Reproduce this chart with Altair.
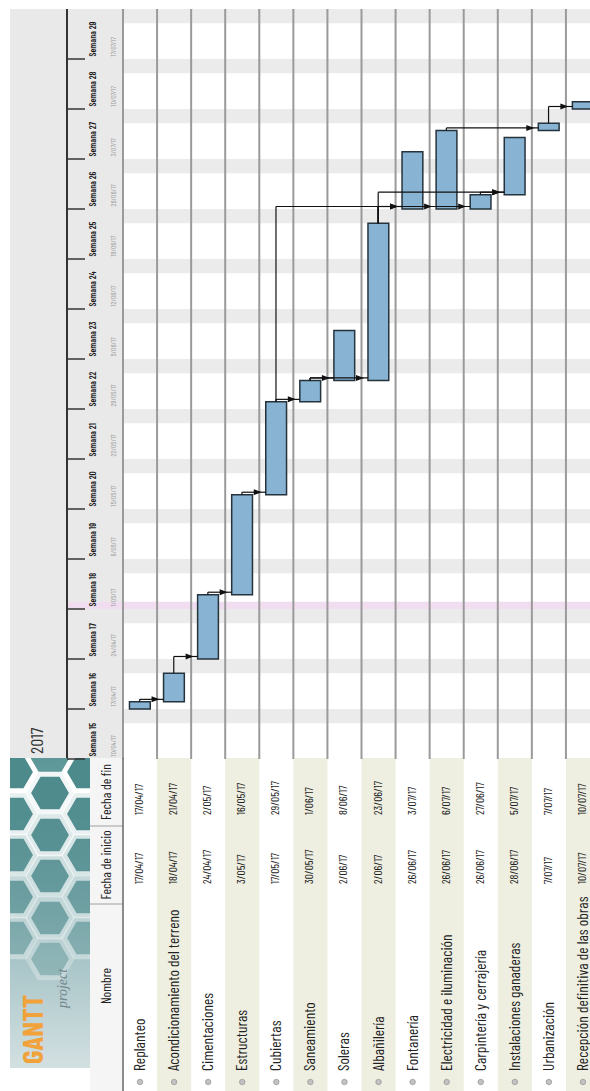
import datetime as dt
import altair as alt
import pandas as pd

# ---------------- data ----------------
names = ["Replanteo", "Acondicionamiento del terreno", "Cimentaciones", "Estructuras",
         "Cubiertas", "Saneamiento", "Soleras", "Albañilería", "Fontanería",
         "Electricidad e iluminación", "Carpintería y cerrajería", "Instalaciones ganaderas",
         "Urbanización", "Recepción definitiva de las obras"]
starts = ["17/04/17", "18/04/17", "24/04/17", "3/05/17", "17/05/17", "30/05/17", "2/06/17",
          "2/06/17", "26/06/17", "26/06/17", "26/06/17", "28/06/17", "7/07/17", "10/07/17"]
ends = ["17/04/17", "21/04/17", "2/05/17", "16/05/17", "29/05/17", "1/06/17", "8/06/17",
        "23/06/17", "3/07/17", "6/07/17", "27/06/17", "5/07/17", "7/07/17", "10/07/17"]
dep_from = [0, 1, 2, 3, 4, 4, 5, 5, 7, 7, 7, 7, 10, 9, 12]
dep_to = [1, 2, 3, 4, 5, 8, 6, 7, 8, 9, 10, 11, 11, 12, 13]
week_numbers = list(range(15, 30))
week_starts = ["10/04/17", "17/04/17", "24/04/17", "1/05/17", "8/05/17", "15/05/17", "22/05/17",
               "29/05/17", "5/06/17", "12/06/17", "19/06/17", "26/06/17", "3/07/17", "10/07/17",
               "17/07/17"]
holidays = ["1/05/17"]
year_label = "2017"
headers = ["Nombre", "Fecha de inicio", "Fecha de fin"]

# decorative honeycomb of the logo (pixel centres)
hex_x = [14, 50, 86, 14, 50, 86, 14, 50, 86, 14, 50, 86, 14, 50, 86]
hex_y = [772, 793, 772, 814, 835, 814, 855, 876, 855, 897, 918, 897, 938, 959, 938]

# ---------------- helpers ----------------
ORIGIN = dt.date(2017, 4, 17)


def day(s):
    return (dt.datetime.strptime(s, "%d/%m/%y").date() - ORIGIN).days


PX_PER_ROW = 477 / 14.0
XS = alt.Scale(domain=[0, 14], range=[123, 600])
YS = alt.Scale(domain=[-7, 98], range=[759, 9])
PXS = alt.Scale(domain=[0, 1091], range=[0, 1091])
FONT = "Barlow Condensed"
one = pd.DataFrame({"k": [0]})


def X(f):
    return alt.X(f, scale=XS, axis=None)


def Y(f):
    return alt.Y(f, scale=YS, axis=None)


def box(x0, x1, y0, y1, color):
    return alt.Chart(one).mark_rect(color=color).encode(
        x=alt.value(x0), x2=alt.value(x1), y=alt.value(y0), y2=alt.value(y1))


def hline(x0, x1, y, color, w):
    return alt.Chart(one).mark_rule(color=color, strokeWidth=w).encode(
        x=alt.value(x0), x2=alt.value(x1), y=alt.value(y))


def vline(x, y0, y1, color, w):
    return alt.Chart(one).mark_rule(color=color, strokeWidth=w).encode(
        x=alt.value(x), y=alt.value(y0), y2=alt.value(y1))


# tasks
tasks = pd.DataFrame({"name": names, "start": starts, "end": ends})
tasks["r"] = range(len(names))
tasks["d0"] = [day(s) for s in starts]
tasks["d1"] = [day(e) + 1 for e in ends]
tasks["bx0"] = tasks["r"] + 0.19
tasks["bx1"] = tasks["r"] + 0.80
tasks["rc"] = tasks["r"] + 0.5

# dependencies
segs, arrows = [], []
for a, b in zip(dep_from, dep_to):
    xa = a + 0.49
    ya = tasks.loc[a, "d1"]
    yb = tasks.loc[b, "d0"] + 0.35
    xb = b + 0.19
    segs.append({"x": xa, "x2": xa, "y": ya, "y2": yb})
    segs.append({"x": xa, "x2": xb, "y": yb, "y2": yb})
    arrows.append({"x": xb - 8.0 / PX_PER_ROW, "y": yb})
segs = pd.DataFrame(segs)
arrows = pd.DataFrame(arrows)

# weeks
weeks = pd.DataFrame({"num": week_numbers, "date": week_starts})
weeks["d"] = [day(s) for s in week_starts]
weeks["dl"] = weeks["d"] + 0.35
weeks["label"] = ["Semana %d" % n for n in week_numbers]

# weekends (Saturday + Sunday) inside the visible span
sat = pd.date_range("2017-04-15", "2017-07-22", freq="7D")
weekends = pd.DataFrame({"d": [(s.date() - ORIGIN).days for s in sat]})
weekends["d2"] = weekends["d"] + 2

hol = pd.DataFrame({"d": [day(h) for h in holidays]})
hol["d2"] = hol["d"] + 1

rows = pd.DataFrame({"r": list(range(0, 14))})
stripes = pd.DataFrame({"r": [r for r in range(14) if r % 2 == 1]})
stripes["r2"] = stripes["r"] + 1

hexes = pd.DataFrame({"x": hex_x, "y": hex_y})
hexes["o"] = [1.0 - (y - 772) / 260.0 for y in hex_y]

head = pd.DataFrame({"t": headers, "y": [986, 865, 792]})

# ---------------- layers ----------------
layers = []

# logo background (gradient) + honeycomb
logo_grad = alt.LinearGradient(
    gradient="linear", x1=0, x2=0, y1=0, y2=1,
    stops=[alt.GradientStop(offset=0, color="#5d9798"),
           alt.GradientStop(offset=0.45, color="#8fb5b8"),
           alt.GradientStop(offset=1, color="#d3e0e2")])
layers.append(alt.Chart(one).mark_rect(fill=logo_grad).encode(
    x=alt.value(10), x2=alt.value(90), y=alt.value(758), y2=alt.value(1068)))
layers.append(alt.Chart(hexes).mark_point(
    shape="M1,0L0.5,0.866L-0.5,0.866L-1,0L-0.5,-0.866L0.5,-0.866Z",
    filled=True, fill="#4d8a8c", stroke="white", strokeWidth=5, size=1900).encode(
    x=alt.X("x:Q", scale=PXS, axis=None),
    y=alt.Y("y:Q", scale=PXS, axis=None),
    opacity=alt.Opacity("o:Q", scale=None)))

# covers that clip the logo
layers.append(box(0, 10, 700, 1091, "white"))
layers.append(box(10, 90, 1068, 1091, "white"))
layers.append(box(90, 123, 758, 1091, "#f5f5f5"))
layers.append(box(10, 123, 9, 758, "#e9e9e9"))

# logo text
layers.append(alt.Chart(one).mark_text(
    angle=270, align="left", baseline="middle", font=FONT, fontWeight="bold",
    fontSize=29, color="#f2a23a").encode(x=alt.value(34), y=alt.value(1064), text=alt.value("GANTT")))
layers.append(alt.Chart(one).mark_text(
    angle=270, align="left", baseline="middle", font="Liberation Serif", fontStyle="italic",
    fontSize=14, color="#74868c").encode(x=alt.value(63), y=alt.value(1008), text=alt.value("project")))

# table stripes
layers.append(alt.Chart(stripes).mark_rect(color="#eeefe1").encode(
    x=X("r:Q"), x2="r2:Q", y=alt.value(758), y2=alt.value(1091)))

# weekend bands
layers.append(alt.Chart(weekends).mark_rect(color="#ebebeb").encode(
    x=alt.value(123), x2=alt.value(590), y=Y("d:Q"), y2="d2:Q"))
# holiday band
layers.append(alt.Chart(hol).mark_rect(color="#f0def0").encode(
    x=alt.value(67), x2=alt.value(590), y=Y("d:Q"), y2="d2:Q"))

# row separators
layers.append(alt.Chart(rows).mark_rule(color="#9a9a9a", strokeWidth=2).encode(
    x=X("r:Q"), y=alt.value(9), y2=alt.value(759)))

# header frame
layers.append(vline(67, 9, 758, "#333333", 2))
layers.append(alt.Chart(weeks).mark_rule(color="#333333", strokeWidth=1.5).encode(
    x=alt.value(67), x2=alt.value(85), y=Y("d:Q")))
layers.append(alt.Chart(weeks).mark_text(
    angle=270, align="left", baseline="middle", font=FONT, fontWeight=600, fontSize=9,
    color="#1e1e1e").encode(x=alt.value(93), y=Y("dl:Q"), text="label:N"))
layers.append(alt.Chart(weeks).mark_text(
    angle=270, align="left", baseline="middle", font=FONT, fontSize=7.5,
    color="#9a9a9a").encode(x=alt.value(114), y=Y("dl:Q"), text="date:N"))
layers.append(alt.Chart(one).mark_text(
    angle=270, align="left", baseline="middle", font=FONT, fontSize=18,
    color="#333333").encode(x=alt.value(38), y=alt.value(754), text=alt.value(year_label)))

# bars
layers.append(alt.Chart(tasks).mark_rect(fill="#89b3d2", stroke="#25333d", strokeWidth=1.5).encode(
    x=X("bx0:Q"), x2="bx1:Q", y=Y("d0:Q"), y2="d1:Q"))

# dependency lines + arrow heads
layers.append(alt.Chart(segs).mark_rule(color="#111111", strokeWidth=1.2).encode(
    x=X("x:Q"), x2="x2:Q", y=Y("y:Q"), y2="y2:Q"))
layers.append(alt.Chart(arrows).mark_point(
    shape="M1,0L-1,-0.75L-1,0.75Z", filled=True, color="#111111", size=64, opacity=1).encode(
    x=X("x:Q"), y=Y("y:Q")))

# table header
layers.append(hline(90, 123, 826, "#a0a0a0", 1))
layers.append(hline(90, 123, 904, "#a0a0a0", 1))
layers.append(vline(123, 758, 1091, "#666666", 1.5))
layers.append(alt.Chart(head).mark_text(
    angle=270, align="center", baseline="middle", font=FONT, fontSize=13.5,
    color="#222222").encode(x=alt.value(107), y=alt.Y("y:Q", scale=PXS, axis=None), text="t:N"))

# table body
layers.append(alt.Chart(tasks).mark_point(
    filled=True, fill="#c2c2c2", stroke="#9a9a9a", strokeWidth=0.8, size=30, opacity=1).encode(
    x=X("rc:Q"), y=alt.value(1082)))
layers.append(alt.Chart(tasks).mark_text(
    angle=270, align="left", baseline="middle", font=FONT, fontSize=15.5,
    color="#222222").encode(x=X("rc:Q"), y=alt.value(1071), text="name:N"))
layers.append(alt.Chart(tasks).mark_text(
    angle=270, align="left", baseline="middle", font=FONT, fontSize=11.5,
    color="#222222").encode(x=X("rc:Q"), y=alt.value(884), text="start:N"))
layers.append(alt.Chart(tasks).mark_text(
    angle=270, align="left", baseline="middle", font=FONT, fontSize=11.5,
    color="#222222").encode(x=X("rc:Q"), y=alt.value(815), text="end:N"))

chart = alt.layer(*layers).resolve_scale(x="independent", y="independent").properties(
    width=590, height=1091, padding=0,
    autosize=alt.AutoSizeParams(type="none"),
).configure_view(stroke=None)

chart.save("out.html", embed_options={"renderer": "svg", "actions": False})
